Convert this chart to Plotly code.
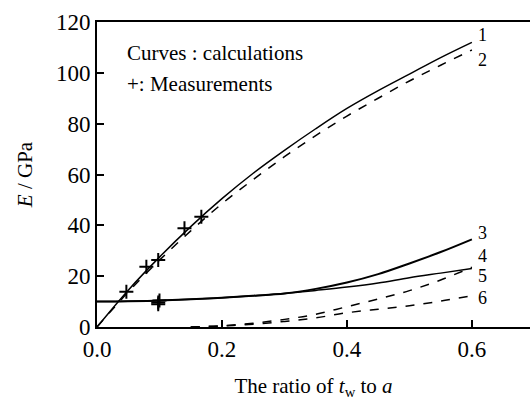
import plotly.graph_objects as go

# Data
x_calc = [0, 0.05, 0.1, 0.15, 0.2, 0.25, 0.3, 0.35, 0.4, 0.45, 0.5, 0.55, 0.6]
curve1 = [0, 14.5, 27.5, 39.5, 50.5, 60.5, 69.5, 78, 86, 93, 99.5, 106, 112]
curve2 = [0, 13.8, 26.3, 37.8, 48.5, 58, 67, 75.3, 83, 90, 96.8, 103, 109]
curve3 = [10, 10.1, 10.4, 10.9, 11.5, 12.3, 13.2, 15, 17.5, 20.8, 25, 29.5, 34.5]
curve4 = [10, 10.1, 10.4, 10.9, 11.5, 12.3, 13.2, 14.4, 15.7, 17.3, 19.4, 21.2, 23]
x_low = [0.15, 0.2, 0.25, 0.3, 0.35, 0.4, 0.45, 0.5, 0.55, 0.6]
curve5 = [0, 0.5, 1.5, 3, 5, 8, 11, 14.3, 18.5, 23.5]
curve6 = [0, 0.4, 1.1, 2.2, 3.6, 5.6, 7, 8.4, 10.2, 12.3]
meas_x = [0.047, 0.079, 0.098, 0.14, 0.167, 0.098, 0.1, 0.098]
meas_y = [13.9, 23.7, 26.4, 38.9, 43.4, 9.6, 10.4, 9.0]
labels = ["1", "2", "3", "4", "5", "6"]
label_y = [115, 105, 37, 28, 20, 11.4]

SERIF = "Liberation Serif"

fig = go.Figure()
line_style = dict(color="black", width=1.5)
fig.add_trace(go.Scatter(x=x_calc, y=curve1, mode="lines", line=dict(line_style, shape="spline")))
fig.add_trace(go.Scatter(x=x_calc, y=curve2, mode="lines", line=dict(line_style, dash="dash", shape="spline")))
fig.add_trace(go.Scatter(x=x_calc, y=curve3, mode="lines", line=dict(color="black", width=2, shape="spline")))
fig.add_trace(go.Scatter(x=x_calc, y=curve4, mode="lines", line=dict(line_style, shape="spline")))
fig.add_trace(go.Scatter(x=x_low, y=curve5, mode="lines", line=dict(line_style, dash="dash", shape="spline")))
fig.add_trace(go.Scatter(x=x_low, y=curve6, mode="lines", line=dict(line_style, dash="dash", shape="spline")))
fig.add_trace(go.Scatter(x=meas_x, y=meas_y, mode="markers",
                         marker=dict(symbol="cross-thin", size=10, line=dict(color="black", width=2))))

for lab, ly in zip(labels, label_y):
    fig.add_annotation(x=0.617, y=ly, text=lab, showarrow=False, xanchor="center", yanchor="middle",
                       font=dict(family=SERIF, size=18, color="black"))

fig.add_annotation(x=0.045, y=108, xref="x", yref="y", text="Curves : calculations", showarrow=False,
                   xanchor="left", yanchor="middle", font=dict(family=SERIF, size=21, color="black"))
fig.add_annotation(x=0.045, y=95.5, xref="x", yref="y", text="+: Measurements", showarrow=False,
                   xanchor="left", yanchor="middle", font=dict(family=SERIF, size=21, color="black"))

fig.update_layout(
    width=530, height=400,
    margin=dict(l=97, r=0, t=22, b=73),
    plot_bgcolor="white", paper_bgcolor="white",
    showlegend=False,
    font=dict(family=SERIF, color="black", size=22),
)
fig.update_xaxes(range=[0, 0.693], tickvals=[0, 0.2, 0.4, 0.6], ticktext=["0.0", "0.2", "0.4", "0.6"],
                 tickfont=dict(family=SERIF, size=23, color="black"),
                 ticks="inside", ticklen=7, tickwidth=1.5, tickcolor="black",
                 showline=True, linecolor="black", linewidth=2, mirror=True, showgrid=False, zeroline=False,
                 title=dict(text="The ratio of <i>t</i><sub>w</sub> to <i>a</i>", standoff=24,
                            font=dict(family=SERIF, size=21, color="black")))
fig.update_yaxes(range=[0, 120], tickvals=[0, 20, 40, 60, 80, 100, 120],
                 tickfont=dict(family=SERIF, size=23, color="black"),
                 ticks="inside", ticklen=7, tickwidth=1.5, tickcolor="black",
                 showline=True, linecolor="black", linewidth=2, showgrid=False, zeroline=False,
                 title=dict(text="<i>E</i> / GPa", standoff=18, font=dict(family=SERIF, size=21, color="black")))

fig.write_html("out.html")
